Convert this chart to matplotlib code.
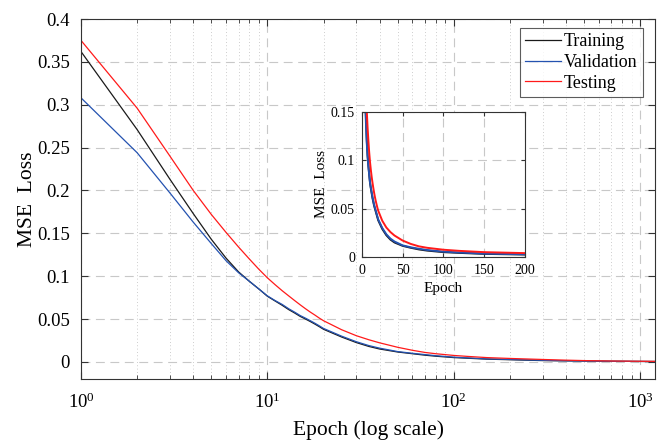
import matplotlib.pyplot as plt
import matplotlib.ticker as mticker

plt.rcParams.update({
    'font.family': 'serif',
    'font.serif': ['Liberation Serif', 'DejaVu Serif'],
    'mathtext.fontset': 'custom',
    'mathtext.rm': 'Liberation Serif',
    'mathtext.it': 'Liberation Serif:italic',
    'axes.linewidth': 0.8,
})

# loss curves
epochs = [1, 2, 3, 4, 5, 6, 7, 8, 9, 10, 11, 12, 13, 14, 15, 16, 17, 18, 19, 20,
          25, 30, 35, 40, 50, 60, 70, 80, 100, 120, 150, 200, 300, 400, 500,
          700, 1000, 1200]
train_loss = [0.362, 0.271, 0.213, 0.173, 0.143, 0.121, 0.105, 0.094, 0.085, 0.0765,
              0.071, 0.066, 0.061, 0.057, 0.053, 0.050, 0.047, 0.044, 0.041, 0.038,
              0.029, 0.0225, 0.018, 0.015, 0.0115, 0.0095, 0.0078, 0.0066, 0.005,
              0.0042, 0.0032, 0.0025, 0.0015, 0.0012, 0.001, 0.0007, 0.0005, 0.0004]
val_loss = [0.308, 0.244, 0.197, 0.163, 0.138, 0.118, 0.104, 0.094, 0.085, 0.077,
            0.0715, 0.067, 0.062, 0.058, 0.054, 0.051, 0.048, 0.045, 0.042, 0.039,
            0.030, 0.0235, 0.019, 0.016, 0.012, 0.010, 0.0085, 0.0072, 0.0055,
            0.0046, 0.0035, 0.0028, 0.0018, 0.0013, 0.001, 0.0007, 0.0005, 0.0004]
test_loss = [0.375, 0.296, 0.240, 0.200, 0.172, 0.151, 0.134, 0.120, 0.108, 0.098,
             0.090, 0.083, 0.077, 0.0715, 0.0665, 0.062, 0.058, 0.0545, 0.051, 0.048,
             0.0375, 0.0305, 0.0258, 0.0222, 0.017, 0.0135, 0.011, 0.0095, 0.0075,
             0.0063, 0.005, 0.004, 0.0028, 0.002, 0.0015, 0.001, 0.0007, 0.0006]

series = [('Training', train_loss, '#1a1a1a'),
          ('Validation', val_loss, '#2452b0'),
          ('Testing', test_loss, '#ff1a1a')]

yticks = [0, 0.05, 0.1, 0.15, 0.2, 0.25, 0.3, 0.35, 0.4]
ytick_labels = ['0', '0.05', '0.1', '0.15', '0.2', '0.25', '0.3', '0.35', '0.4']
inset_yticks = [0, 0.05, 0.1, 0.15]
inset_ytick_labels = ['0', '0.05', '0.1', '0.15']
inset_xticks = [0, 50, 100, 150, 200]

fig = plt.figure(figsize=(6.64, 4.42), dpi=100)
ax = fig.add_axes([0.122, 0.1425, 0.8645, 0.8145])

for name, vals, c in series:
    ax.plot(epochs, vals, color=c, lw=0.9, label=name)

ax.set_xscale('log')
ax.set_xlim(1, 1200)
ax.set_ylim(-0.02, 0.4)
ax.set_yticks(yticks)
ax.set_yticklabels(ytick_labels)
ax.xaxis.set_minor_locator(mticker.LogLocator(base=10, subs=range(2, 10), numticks=20))
ax.xaxis.set_minor_formatter(mticker.NullFormatter())
ax.grid(True, which='major', color='#c8c8c8', linestyle=(0, (8, 5)), lw=0.8)
ax.grid(True, which='minor', axis='x', color='#bdbdbd', linestyle=(0, (1, 3)), lw=0.6)
ax.tick_params(which='both', direction='in', top=True, right=True,
               labelsize=13.5, color='#333333')
ax.tick_params(which='major', length=5, pad=8)
ax.tick_params(which='minor', length=3)
ax.tick_params(axis='x', pad=10)
for s in ax.spines.values():
    s.set_color('#333333')
ax.set_xlabel('Epoch (log scale)', fontsize=15.5, labelpad=6)
ax.set_ylabel('MSE  Loss', fontsize=15.5, labelpad=0)

leg = ax.legend(loc='upper right', bbox_to_anchor=(0.979, 0.975), fontsize=13,
                frameon=True, fancybox=False, edgecolor='#333333',
                borderpad=0.3, labelspacing=0.2, handlelength=2.0,
                handletextpad=0.15, borderaxespad=0.0)
leg.get_frame().set_linewidth(0.8)

# inset: linear epoch axis
ins = fig.add_axes([0.545, 0.4186, 0.2455, 0.328])
for name, vals, c in series:
    ins.plot(epochs, vals, color=c, lw=1.4)
ins.set_xlim(0, 200)
ins.set_ylim(0, 0.15)
ins.set_xticks(inset_xticks)
ins.set_yticks(inset_yticks)
ins.set_yticklabels(inset_ytick_labels)
ins.grid(True, color='#c8c8c8', linestyle=(0, (8, 5)), lw=0.8)
ins.tick_params(direction='in', top=True, right=True, labelsize=10,
                length=3, pad=5, color='#333333')
for s in ins.spines.values():
    s.set_color('#333333')
ins.set_xlabel('Epoch', fontsize=11, labelpad=4)
ins.set_ylabel('MSE  Loss', fontsize=11, labelpad=2)

fig.savefig('out.png', dpi=100, facecolor='white')
